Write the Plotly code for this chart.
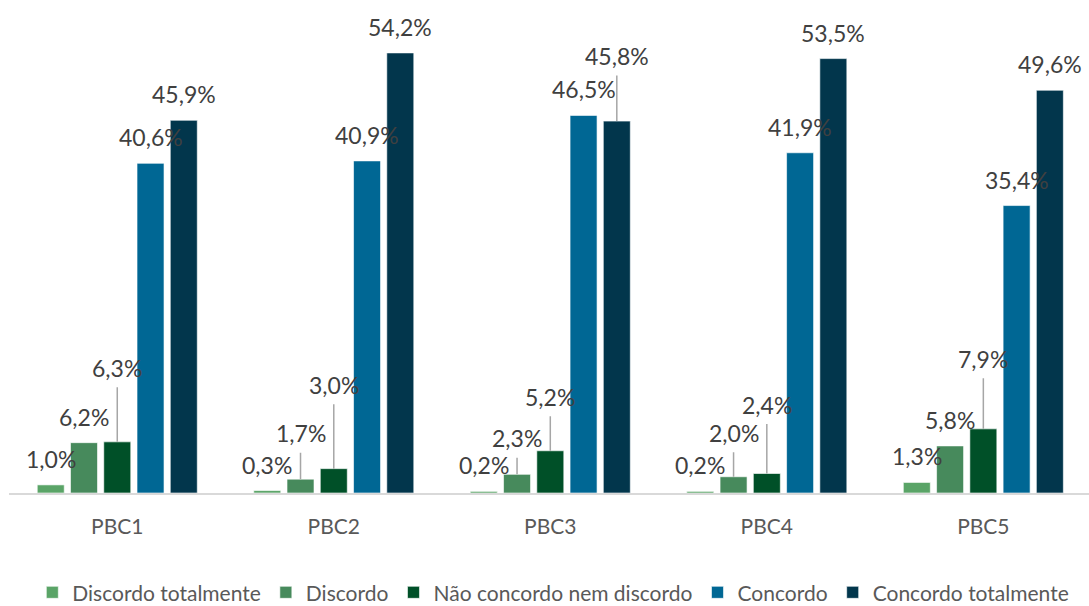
import plotly.graph_objects as go

categories = ['PBC1', 'PBC2', 'PBC3', 'PBC4', 'PBC5']
series_names = ['Discordo totalmente', 'Discordo', 'Não concordo nem discordo',
                'Concordo', 'Concordo totalmente']
discordo_totalmente = [1.0, 0.3, 0.2, 0.2, 1.3]
discordo = [6.2, 1.7, 2.3, 2.0, 5.8]
nao_concordo = [6.3, 3.0, 5.2, 2.4, 7.9]
concordo = [40.6, 40.9, 46.5, 41.9, 35.4]
concordo_totalmente = [45.9, 54.2, 45.8, 53.5, 49.6]

series_values = [discordo_totalmente, discordo, nao_concordo, concordo, concordo_totalmente]
colors = ['#5AA467', '#478A5C', '#005028', '#006794', '#02364C']

# label placement (pixels above bar top); moved labels get a leader line
default_lift = 26
moved = {(2, 0): 74, (1, 1): 46, (2, 1): 84, (1, 2): 36, (2, 2): 54,
         (4, 2): 65, (1, 3): 44, (2, 3): 69, (2, 4): 70}

bar_w = 0.1247
step = 0.1536
font = 'Lato, Carlito, Calibri, sans-serif'

fig = go.Figure()
annotations = []
for k, (name, vals) in enumerate(zip(series_names, series_values)):
    off = (k - 2) * step
    fig.add_trace(go.Bar(x=list(range(len(categories))), y=vals, name=name,
                         width=bar_w, offset=off - bar_w / 2,
                         marker=dict(color=colors[k],
                                     line=dict(color='rgba(255,255,255,0.6)', width=1))))
    for i, v in enumerate(vals):
        txt = f'{v:.1f}'.replace('.', ',') + '%'
        if (k, i) in moved:
            annotations.append(dict(x=i + off, y=v, text=txt, showarrow=True,
                                    ax=0, ay=-moved[(k, i)], arrowhead=0,
                                    arrowwidth=1.5, arrowcolor='#A6A6A6',
                                    height=36, valign='middle',
                                    font=dict(family=font, size=23, color='#404040')))
        else:
            annotations.append(dict(x=i + off, y=v, text=txt, showarrow=False,
                                    yshift=default_lift, yanchor='middle',
                                    font=dict(family=font, size=23, color='#404040')))

fig.update_xaxes(tickvals=list(range(len(categories))), ticktext=categories,
                 range=[-0.5, 4.488], showgrid=False, zeroline=False,
                 showline=True, linecolor='#D9D9D9', linewidth=2,
                 ticks='', ticklabelstandoff=14, automargin=False,
                 tickfont=dict(family=font, size=21, color='#595959'))
fig.update_yaxes(visible=False, range=[0, 60.1], automargin=False)
fig.update_layout(width=1089, height=606, template='plotly_white',
                  plot_bgcolor='white', paper_bgcolor='white',
                  margin=dict(l=9, r=0, t=5, b=113, autoexpand=False),
                  annotations=annotations, showlegend=True,
                  legend=dict(orientation='h', x=0.504, xanchor='center',
                              y=0.022, yref='container', yanchor='middle',
                              itemwidth=30, bgcolor='rgba(0,0,0,0)',
                              font=dict(family=font, size=21, color='#595959')))
fig.write_html('out.html', config={'displayModeBar': False},
               post_script="document.body.style.margin='0';document.body.style.overflow='hidden';")
